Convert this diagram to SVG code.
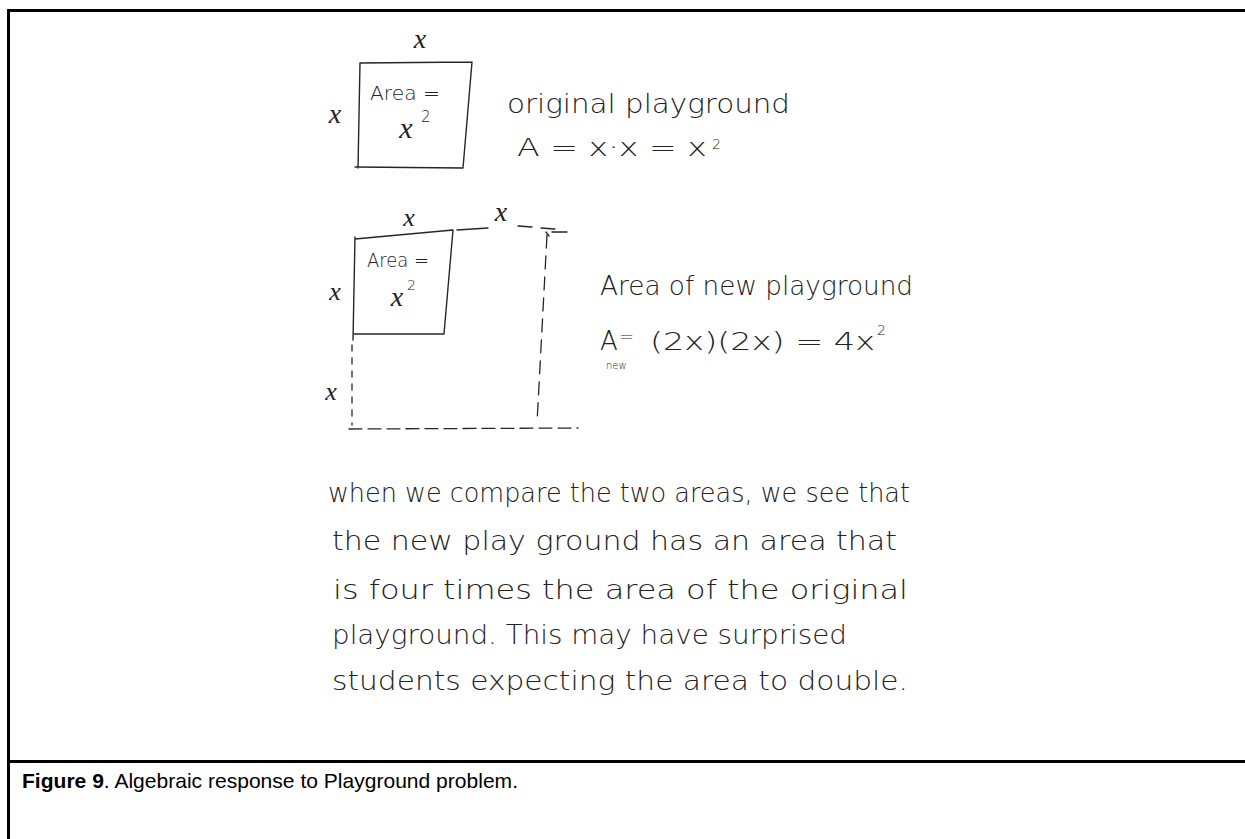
<svg xmlns="http://www.w3.org/2000/svg" width="1245" height="839" viewBox="0 0 1245 839">
<style>
.frame{stroke:#000;stroke-width:3;fill:none}
.pen{stroke:#262626;stroke-width:1.4;fill:none;stroke-linecap:round;stroke-linejoin:round}
.dash{stroke:#262626;stroke-width:1.3;fill:none;stroke-linecap:round}
.hw{font-family:"DejaVu Sans","Liberation Sans",sans-serif;font-weight:200;fill:#222}
.var{font-family:"Liberation Serif","DejaVu Serif",serif;font-style:italic;fill:#222}
.cap{font-family:"Liberation Sans",Arial,sans-serif;font-size:21px;fill:#000}
</style>
<rect width="1245" height="839" fill="#fff"/>
<g id="frame">
<line class="frame" x1="8.5" y1="10.5" x2="1245" y2="10.5"/>
<line class="frame" x1="8.5" y1="9" x2="8.5" y2="839"/>
<line class="frame" x1="8.5" y1="761.5" x2="1245" y2="761.5"/>
</g>
<g id="original-square">
<path class="pen" d="M360,63 L472,62 M472,62 L463,168 M355,167 L463,168 M360,63 L358,168"/>
<text class="var" x="420" y="48" font-size="28" text-anchor="middle">x</text>
<text class="var" x="335" y="123" font-size="28" text-anchor="middle">x</text>
<text class="hw" x="370" y="100" font-size="20" textLength="70" lengthAdjust="spacingAndGlyphs">Area =</text>
<text class="var" x="406" y="138" font-size="30" text-anchor="middle">x</text>
<text class="hw" x="421" y="122" font-size="15">2</text>
</g>
<g id="original-label">
<text class="hw" x="507" y="113" font-size="26" textLength="283" lengthAdjust="spacingAndGlyphs">original playground</text>
<text class="hw" x="517" y="156" font-size="25" textLength="190" lengthAdjust="spacingAndGlyphs">A = x·x = x</text>
<text class="hw" x="712" y="149" font-size="14">2</text>
</g>
<g id="new-square">
<path class="pen" d="M355,239 L453,230 M453,230 L444,334 M353,334 L444,334 M355,237 L353,340"/>
<text class="var" x="409" y="226" font-size="26" text-anchor="middle">x</text>
<text class="var" x="501" y="221" font-size="28" text-anchor="middle">x</text>
<text class="var" x="335" y="300" font-size="26" text-anchor="middle">x</text>
<text class="var" x="331" y="400" font-size="26" text-anchor="middle">x</text>
<text class="hw" x="367" y="267" font-size="20" textLength="62" lengthAdjust="spacingAndGlyphs">Area =</text>
<text class="var" x="397" y="306" font-size="28" text-anchor="middle">x</text>
<text class="hw" x="407" y="290" font-size="14">2</text>
</g>
<g id="connectors">
<path class="dash" d="M352,345 L352,425" stroke-dasharray="6 7"/>
<path class="dash" d="M349,429 L578,428" stroke-dasharray="13 6"/>
<path class="dash" d="M547,235 L537,423" stroke-dasharray="13 8"/>
<path class="dash" d="M457,230 L488,228 M518,226 L532,227 M541,228 L555,229"/>
<path class="dash" d="M546,232 L549,236 M552,232 L567,232"/>
</g>
<g id="new-label">
<text class="hw" x="600" y="295" font-size="26" textLength="313" lengthAdjust="spacingAndGlyphs">Area of new playground</text>
<text class="hw" x="600" y="350" font-size="26">A</text>
<text class="hw" x="619" y="343" font-size="18">=</text>
<text class="hw" x="606" y="369" font-size="10">new</text>
<text class="hw" x="650" y="350" font-size="25" textLength="225" lengthAdjust="spacingAndGlyphs">(2x)(2x) = 4x</text>
<text class="hw" x="877" y="335" font-size="14">2</text>
</g>
<g id="explanation">
<text class="hw" x="328" y="502" font-size="26" textLength="582" lengthAdjust="spacingAndGlyphs">when we compare the two areas, we see that</text>
<text class="hw" x="332" y="550" font-size="26" textLength="565" lengthAdjust="spacingAndGlyphs">the new play ground has an area that</text>
<text class="hw" x="333" y="599" font-size="26" textLength="575" lengthAdjust="spacingAndGlyphs">is four times the area of the original</text>
<text class="hw" x="332" y="644" font-size="26" textLength="515" lengthAdjust="spacingAndGlyphs">playground. This may have surprised</text>
<text class="hw" x="332" y="690" font-size="26" textLength="576" lengthAdjust="spacingAndGlyphs">students expecting the area to double.</text>
</g>
<g id="caption">
<text class="cap" x="22" y="788" textLength="496" lengthAdjust="spacingAndGlyphs"><tspan font-weight="bold">Figure 9</tspan>. Algebraic response to Playground problem.</text>
</g>
</svg>
